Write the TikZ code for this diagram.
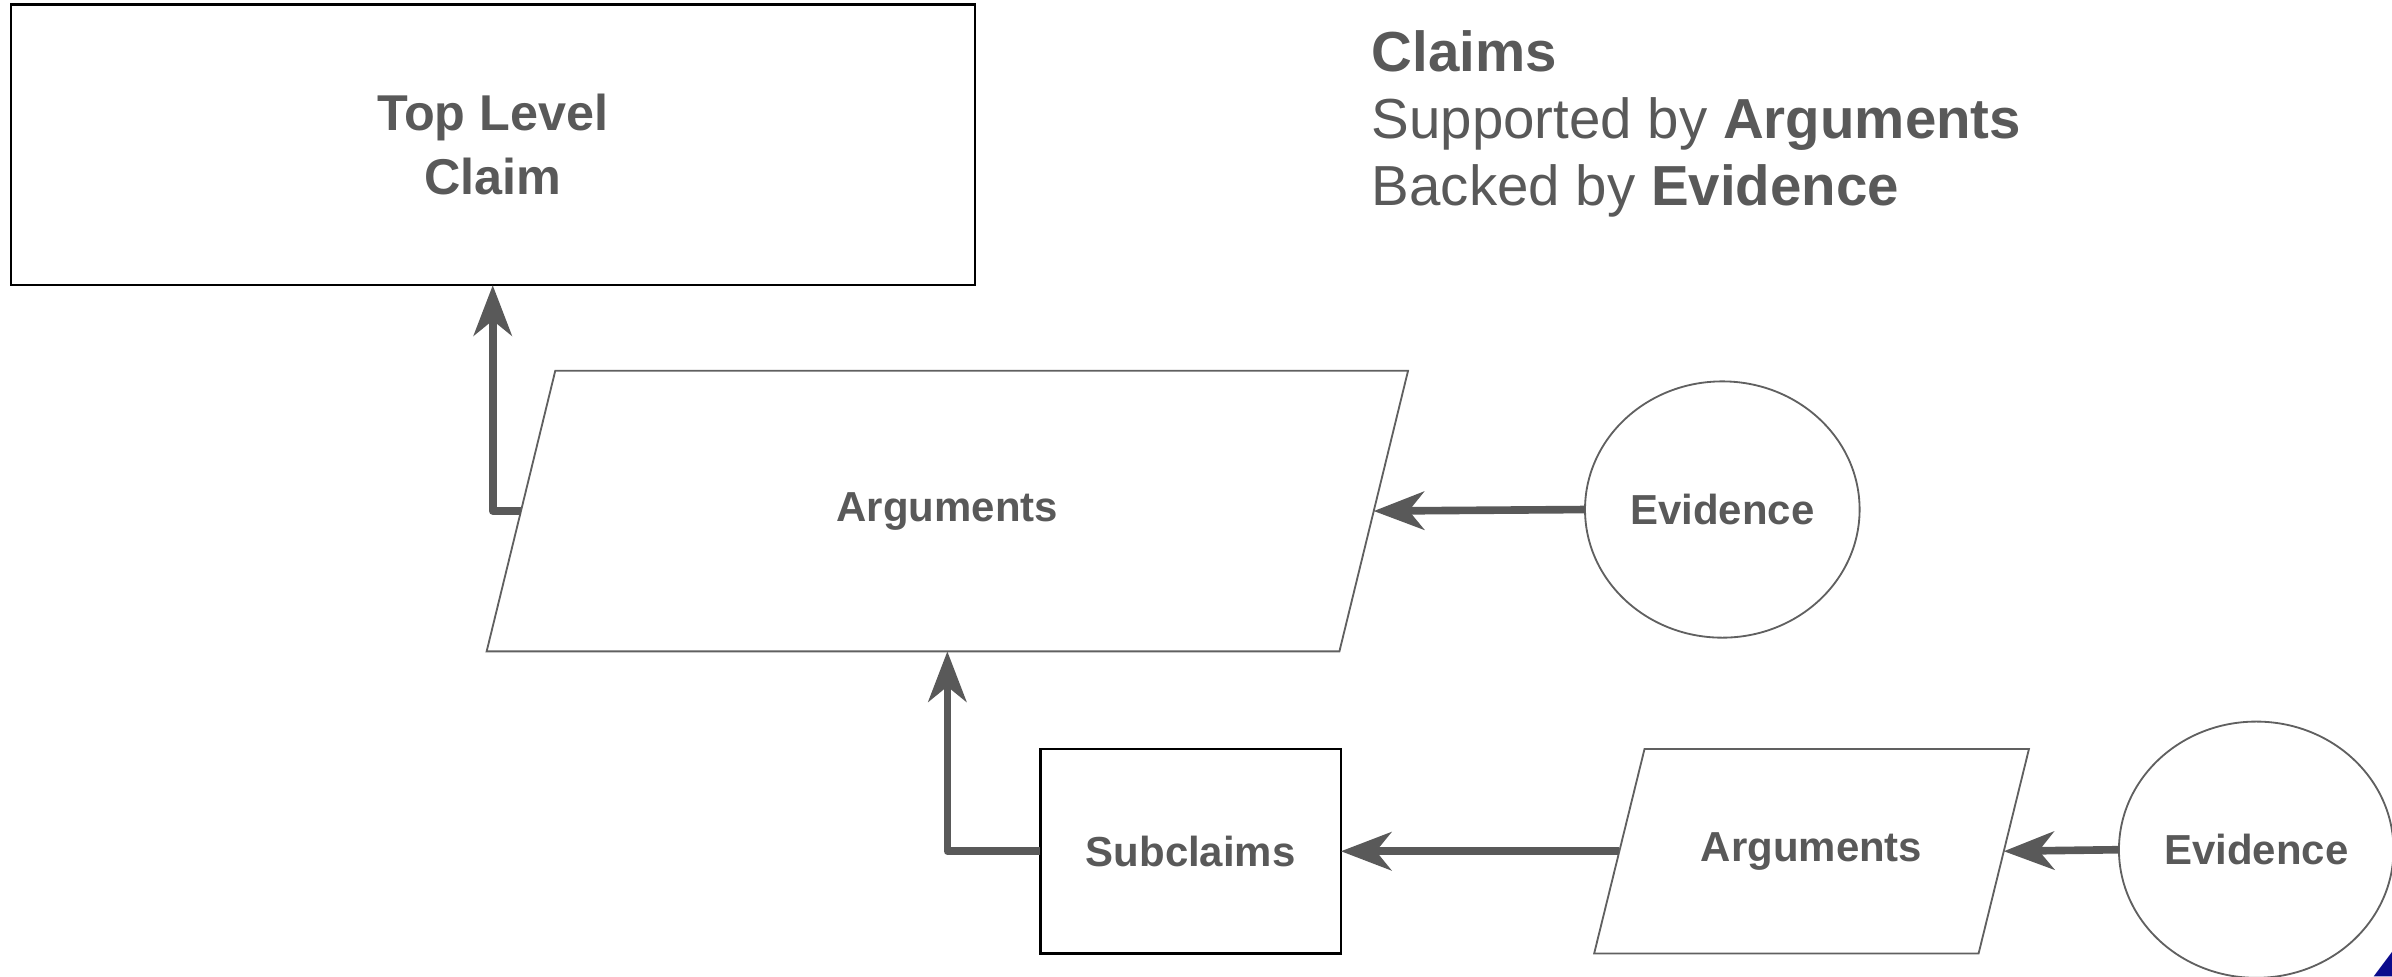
\documentclass[tikz,border=0pt]{standalone}
\usepackage{fontspec}
\setmainfont{Liberation Sans}
\usetikzlibrary{shapes.geometric, arrows.meta}
\definecolor{inkgray}{HTML}{595959}
\definecolor{edgegray}{HTML}{606060}
\definecolor{dockblue}{HTML}{0B0B8C}

\begin{document}
\begin{tikzpicture}[x=1pt, y=-1pt,
        claimbox/.style={draw=black, line width=1.5pt, inner sep=0pt, outer sep=0pt,
            text=inkgray, align=center, font=\bfseries\fontsize{27.5}{33}\selectfont},
        argbox/.style={inner sep=0pt, outer sep=0pt, text=inkgray,
            font=\bfseries\fontsize{27.5}{33}\selectfont},
        argline/.style={draw=edgegray, line width=1.2pt, line join=miter},
        evidence/.style={ellipse, draw=edgegray, line width=1.2pt, minimum width=180pt,
            minimum height=168pt, inner sep=0pt, outer sep=0pt, text=inkgray,
            font=\bfseries\fontsize{27.5}{33}\selectfont},
        link/.style={draw=inkgray, line width=5pt, line join=round,
            -{Stealth[length=33pt, width=25pt, inset=10pt]}}
    ]
        \useasboundingbox (0, 0) rectangle (1568, 640);

        \node[claimbox, minimum width=632pt, minimum height=184pt,
            font=\bfseries\fontsize{33}{42}\selectfont] (top) at (323, 95) {Top Level\\Claim};
        \node[argbox, minimum width=559pt, minimum height=184pt] (arg) at (621, 335) {Arguments};
        \node[evidence] (ev) at (1129, 334) {Evidence};

        \node[claimbox, minimum width=197pt, minimum height=134pt] (sub) at (780.5, 558) {Subclaims};
        \node[argbox, minimum width=252pt, minimum height=134pt] (subarg) at (1187.5, 558) {Arguments};
        \node[evidence] (subev) at (1479, 557) {Evidence};

        % slanted outlines of the argument boxes
        \foreach \n/\s in {arg/22.5, subarg/16.5}
            \draw[argline] ([xshift=\s pt]\n.north west) -- ([xshift=\s pt]\n.north east)
                -- ([xshift=-\s pt]\n.south east) -- ([xshift=-\s pt]\n.south west) -- cycle;

        \node[anchor=north west, inner sep=0pt, align=left, text=inkgray,
            font=\fontsize{37}{44}\selectfont] (key) at (899, 20)
            {\textbf{Claims}\\Supported by \textbf{Arguments}\\Backed by \textbf{Evidence}};

        \draw[link] (arg.west) -| (top.south);
        \draw[link] (ev.west) -- (arg.east);
        \draw[link] (sub.west) -| (arg.south);
        \draw[link] (subarg.west) -- (sub.east);
        \draw[link] (subev.west) -- (subarg.east);

        \fill[dockblue] (1556, 640) -- (1568, 624) -- (1568, 640) -- cycle;
    \end{tikzpicture}
\end{document}
